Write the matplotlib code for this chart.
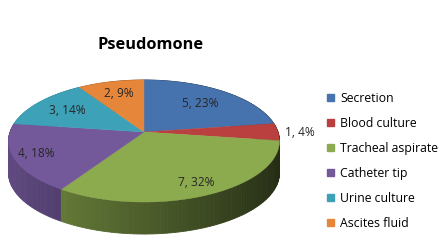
import numpy as np
import matplotlib
matplotlib.use('Agg')
import matplotlib.pyplot as plt
from matplotlib.patches import Polygon, Patch

categories = ['Secretion', 'Blood culture', 'Tracheal aspirate', 'Catheter tip', 'Urine culture', 'Ascites fluid']
counts = [5, 1, 7, 4, 3, 2]
pct_labels = ['23%', '4%', '32%', '18%', '14%', '9%']
colors = ['#4673AD', '#B9403E', '#8CAA4E', '#73589A', '#3DA1B8', '#E5863A']
title = 'Pseudomone'

# geometry of the fake 3d pie (pixel units)
cx, cy = 144, 132
A, B, k = 134, 59.7, 0.1475
depth = 32
lab_r = [0.64, 1.16, 0.93, 0.88, 0.68, 0.68]

def proj(theta):
    # theta in degrees, clockwise from top
    t = np.radians(theta)
    x = np.sin(t)
    z = -np.cos(t)
    p = 1.0 / (1.0 - k * z)
    return cx + A * x * p, cy + B * z * p

def shade(col, f):
    r, g, b = matplotlib.colors.to_rgb(col)
    return (r * f, g * f, b * f)

plt.rcParams['font.family'] = ['Open Sans', 'DejaVu Sans']
fig = plt.figure(figsize=(4.48, 2.49), dpi=100)
ax = fig.add_axes([0, 0, 1, 1])
ax.set_xlim(0, 448)
ax.set_ylim(249, 0)
ax.axis('off')

total = float(sum(counts))
bounds = np.concatenate([[0], np.cumsum(counts)]) / total * 360

# side walls, small quads sorted back to front
quads = []
for i in range(len(counts)):
    ts = np.linspace(bounds[i], bounds[i + 1], max(3, int(counts[i] * 12)))
    for a0, a1 in zip(ts[:-1], ts[1:]):
        x0, y0 = proj(a0)
        x1, y1 = proj(a1)
        zm = -np.cos(np.radians((a0 + a1) / 2))
        f = 0.55 - 0.3 * np.sin(np.radians((a0 + a1) / 2))
        quads.append((zm, [(x0, y0), (x1, y1), (x1, y1 + depth), (x0, y0 + depth)], shade(colors[i], f)))
quads.sort(key=lambda q: q[0])
for zm, pts, c in quads:
    ax.add_patch(Polygon(pts, closed=True, facecolor=c, edgecolor=c, lw=0.6))

# top surfaces
for i in range(len(counts)):
    ts = np.linspace(bounds[i], bounds[i + 1], 60)
    pts = [(cx, cy)] + [proj(t) for t in ts]
    ax.add_patch(Polygon(pts, closed=True, facecolor=colors[i], edgecolor=colors[i], lw=0.3))

# data labels
for i in range(len(counts)):
    mid = (bounds[i] + bounds[i + 1]) / 2
    t = np.radians(mid)
    x = cx + A * np.sin(t) * lab_r[i]
    y = cy - B * np.cos(t) * lab_r[i]
    ax.text(x, y, '%d, %s' % (counts[i], pct_labels[i]), ha='center', va='center',
            fontsize=8.6, color='#262626')

ax.text(151, 45, title, ha='center', va='center', fontsize=11.8, fontweight='bold', color='black')

handles = [Patch(facecolor=c, edgecolor=c) for c in colors]
fig.legend(handles, categories, loc='center left', bbox_to_anchor=(0.72, 0.355), frameon=False,
           fontsize=8.8, handlelength=0.55, handleheight=0.55, handletextpad=0.5,
           labelspacing=0.98, borderaxespad=0)

fig.savefig('out.png', dpi=100)
